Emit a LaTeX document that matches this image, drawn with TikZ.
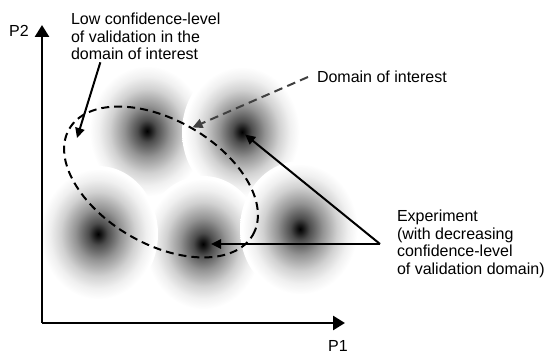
\documentclass[tikz,border=0pt]{standalone}
\usepackage{fontspec}
\setmainfont{Liberation Sans}
\usetikzlibrary{arrows.meta, shapes.geometric}
\definecolor{domgray}{HTML}{404040}
\pgfdeclareradialshading{blobshade}{\pgfpoint{0bp}{0bp}}{color(0bp)=(black); color(1.5bp)=(black!90); color(4bp)=(black!70); color(9.5bp)=(black!42); color(15.5bp)=(black!18); color(20bp)=(black!6); color(24bp)=(white); color(50bp)=(white)}

\begin{document}
\begin{tikzpicture}[x=0.75pt, y=-0.75pt,
    expblob/.style={ellipse, minimum width=90pt, minimum height=102pt, inner sep=0pt, shading=blobshade},
    lbl/.style={align=left, inner sep=0pt, outer sep=0pt, font=\fontsize{12}{13.1}\selectfont},
    ptr/.style={line width=1.5pt, -{Triangle[length=7.5pt, width=7pt]}},
    axis/.style={line width=2pt, -{Triangle[length=9pt, width=10.5pt]}}]
    \useasboundingbox (0,0) rectangle (544,353);

    % Experiments
    \node (e1) at (147,131) [expblob] {};
    \node (e2) at (242,132) [expblob] {};
    \node (e3) at (203,244) [expblob] {};
    \node (e4) at (98,234) [expblob] {};
    \node (e5) at (300,229) [expblob] {};

    % Axes
    \coordinate (O) at (42,323);
    \coordinate (ymax) at (42,25);
    \coordinate (xmax) at (345,323);
    \draw[axis] (O) -- (ymax);
    \draw[axis] (O) -- (xmax);
    \node (p2) at (19,31) [lbl] {P2};
    \node (p1) at (338,346) [lbl] {P1};

    % Domain of interest
    \node (dom) at (161,182) [ellipse, draw, line width=1.5pt, dash pattern=on 6pt off 3.75pt,
        minimum width=159pt, minimum height=93pt, inner sep=0pt, rotate=-30] {};
    \coordinate (lowend) at (77,138);

    % Labels
    \node (lowtxt) at (71,13) [lbl, anchor=north west]
        {Low confidence-level\\of validation in the\\domain of interest};
    \node (domtxt) at (308,77) [lbl, anchor=west, inner xsep=6.75pt] {Domain of interest};
    \node (exptxt) at (380,244) [lbl, anchor=west, inner xsep=12.75pt]
        {Experiment\\(with decreasing\\confidence-level\\of validation domain)};

    % edges
    \draw[ptr] ([xshift=22pt, yshift=-2pt]lowtxt.south west) -- (lowend);
    \draw[ptr, domgray, dash pattern=on 6.5pt off 4pt] (domtxt.west) -- (dom.north);
    \draw[ptr, shorten >=3pt] (exptxt.west) -- (e2.center);
    \draw[ptr, shorten >=6pt] (exptxt.west) -- (e3.center);

\end{tikzpicture}
\end{document}
